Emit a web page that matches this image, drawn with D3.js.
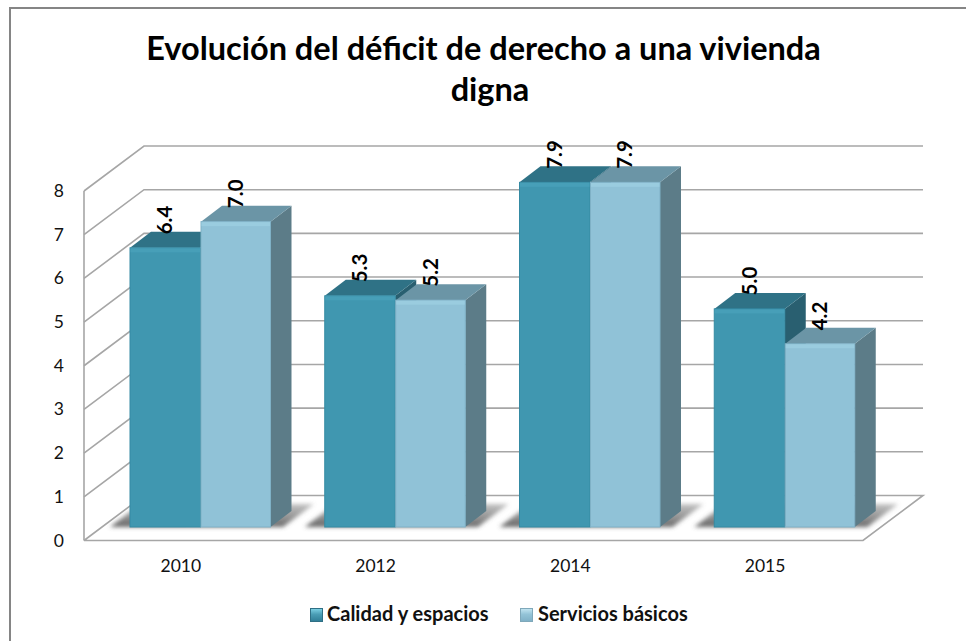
<!DOCTYPE html>
<html>
<head>
<meta charset="utf-8">
<script src="https://cdn.jsdelivr.net/npm/d3@7"></script>
<style>
  body { margin: 0; background: #fff; }
  text { font-family: Lato, "Open Sans", sans-serif; }
</style>
</head>
<body>
<div id="chart"></div>
<script>
var years = ["2010", "2012", "2014", "2015"];
var calidad = [6.4, 5.3, 7.9, 5.0];
var servicios = [7.0, 5.2, 7.9, 4.2];
var seriesNames = ["Calidad y espacios", "Servicios básicos"];
var yTicks = [0, 1, 2, 3, 4, 5, 6, 7, 8];

var width = 966, height = 641;
var dx = 60, dy = -45;        // depth of the back wall
var barDx = 21, barDy = -16;  // depth of a bar

var svg = d3.select("#chart").append("svg")
  .attr("width", width)
  .attr("height", height)
  .style("display", "block");

var defs = svg.append("defs");

function vgrad(id, stops) {
  var g = defs.append("linearGradient").attr("id", id)
    .attr("x1", 0).attr("y1", 0).attr("x2", 0).attr("y2", 1);
  stops.forEach(function (s) {
    g.append("stop").attr("offset", s[0]).attr("stop-color", s[1]).attr("stop-opacity", s[2] === undefined ? 1 : s[2]);
  });
}
// fades out towards the back of the floor
var shadowFade = defs.append("linearGradient").attr("id", "shadow")
  .attr("x1", 0.5).attr("y1", 0).attr("x2", 0.45).attr("y2", 1);
shadowFade.append("stop").attr("offset", 0).attr("stop-color", "#777").attr("stop-opacity", 0.45);
shadowFade.append("stop").attr("offset", 1).attr("stop-color", "#555").attr("stop-opacity", 0.9);
vgrad("legendA", [[0, "#7fd3e6"], [0.45, "#4a9db5"], [1, "#2f7d96"]]);
vgrad("legendB", [[0, "#c4e6f2"], [0.45, "#93c3d7"], [1, "#7fb0c6"]]);
defs.append("filter").attr("id", "blur")
  .attr("x", "-20%").attr("y", "-30%").attr("width", "140%").attr("height", "160%")
  .append("feGaussianBlur").attr("stdDeviation", 2.2);

// only the top and left edges of the chart frame are in the picture
svg.append("path")
  .attr("d", d3.line()([[10, height], [10, 8], [width, 8]]))
  .attr("fill", "none")
  .attr("stroke", "#858585")
  .attr("stroke-width", 2);

// title
var title = svg.append("text")
  .attr("text-anchor", "middle")
  .attr("font-weight", 700)
  .attr("font-size", 32.5)
  .attr("fill", "#000");
title.append("tspan").attr("x", 483.5).attr("y", 60).text("Evolución del déficit de derecho a una vivienda");
title.append("tspan").attr("x", 490).attr("y", 101).text("digna");

// scales on the front plane of the plot
var x = d3.scaleBand().domain(years).range([84, 863]);
var y = d3.scaleLinear().domain([0, 8]).range([540.5, 191]);
// bars stand a little behind the front plane
var yBar = d3.scaleLinear().domain([0, 8]).range([527, 178]);
var inner = d3.scaleBand().domain([0, 1]).range([x(years[0]) + 46, x(years[0]) + 46 + 141]);

// walls and gridlines
var grid = svg.append("g").attr("fill", "none").attr("stroke", "#a6a6a6").attr("stroke-width", 1.6);

yTicks.forEach(function (t) {
  var pts = t === 0
    ? [[84, y(0)], [84 + dx, y(0) + dy], [863 + dx, y(0) + dy], [863, y(0)], [84, y(0)]]
    : [[84, y(t)], [84 + dx, y(t) + dy], [863 + dx, y(t) + dy]];
  grid.append("path").attr("d", d3.line()(pts));
});
grid.append("line").attr("x1", 84).attr("x2", 84).attr("y1", y(0)).attr("y2", y(8));

// y axis labels
svg.append("g").selectAll("text").data(yTicks).enter().append("text")
  .attr("x", 64)
  .attr("y", function (d) { return y(d) + 6; })
  .attr("text-anchor", "end")
  .attr("font-size", 17.5)
  .attr("fill", "#111")
  .text(function (d) { return d; });

// x axis labels
svg.append("g").selectAll("text").data(years).enter().append("text")
  .attr("x", function (d) { return x(d) + x.bandwidth() / 2 - 0.5; })
  .attr("y", 572)
  .attr("text-anchor", "middle")
  .attr("font-size", 17.5)
  .attr("fill", "#111")
  .text(function (d) { return d; });

var palette = [
  { front: "#4097b0", edge: "#348aa3", shine: "#479fb8", top: "#2f7286", side: "#295f70" },
  { front: "#90c2d7", edge: "#7fb1c6", shine: "#9accdf", top: "#6b95a6", side: "#5c7c88" }
];

function poly(g, pts, fill) {
  return g.append("path").attr("d", d3.line()(pts) + "Z").attr("fill", fill);
}

// floor shadow goes under everything, bars are drawn left to right
var shadows = svg.append("g");
var bars = svg.append("g");
var labels = svg.append("g");

years.forEach(function (yr, i) {
  var off = x(yr) - x(years[0]);
  var x0 = inner(0) + off;
  var w = inner.bandwidth();
  var right = x0 + 2 * w;
  var base = yBar(0);
  poly(shadows, [[x0 - 20, base], [x0 + 10, base - 23], [right + 43, base - 23], [right + 12, base]], "url(#shadow)")
    .attr("filter", "url(#blur)");

  [calidad, servicios].forEach(function (vals, s) {
    var c = palette[s];
    var bx = inner(s) + off + (s ? 0.5 : 0);
    var bw = w - (s ? 1 : 0);
    var top = yBar(vals[i]);
    var g = bars.append("g");
    poly(g, [[bx + bw, top], [bx + bw + barDx, top + barDy], [bx + bw + barDx, base + barDy], [bx + bw, base]], c.side);
    poly(g, [[bx, top], [bx + barDx, top + barDy], [bx + bw + barDx, top + barDy], [bx + bw, top]], c.top);
    g.append("rect").attr("x", bx).attr("y", top).attr("width", bw).attr("height", base - top)
      .attr("fill", c.front).attr("stroke", c.edge).attr("stroke-width", 1);
    g.append("rect").attr("x", bx + 0.5).attr("y", top + 0.5).attr("width", bw - 1).attr("height", 4)
      .attr("fill", c.shine);

    var lx = bx + bw / 2 + 7;
    var ly = top - 13.5;
    labels.append("text")
      .attr("transform", "translate(" + lx + "," + ly + ") rotate(-90)")
      .attr("font-size", 20.5)
      .attr("font-weight", 700)
      .attr("fill", "#000")
      .text(vals[i].toFixed(1));
  });
});

// legend
var legendX = [310, 520];
var legendTextX = [327, 538];
seriesNames.forEach(function (name, s) {
  var g = svg.append("g");
  g.append("rect").attr("x", legendX[s] + 0.5).attr("y", 608.5).attr("width", 12).attr("height", 13)
    .attr("fill", "url(#" + (s ? "legendB" : "legendA") + ")")
    .attr("stroke", s ? "#7fa8ba" : "#2f6f85");
  g.append("text").attr("x", legendTextX[s]).attr("y", 621)
    .attr("font-size", 20).attr("font-weight", 700).attr("fill", "#111").text(name);
});
</script>
</body>
</html>
